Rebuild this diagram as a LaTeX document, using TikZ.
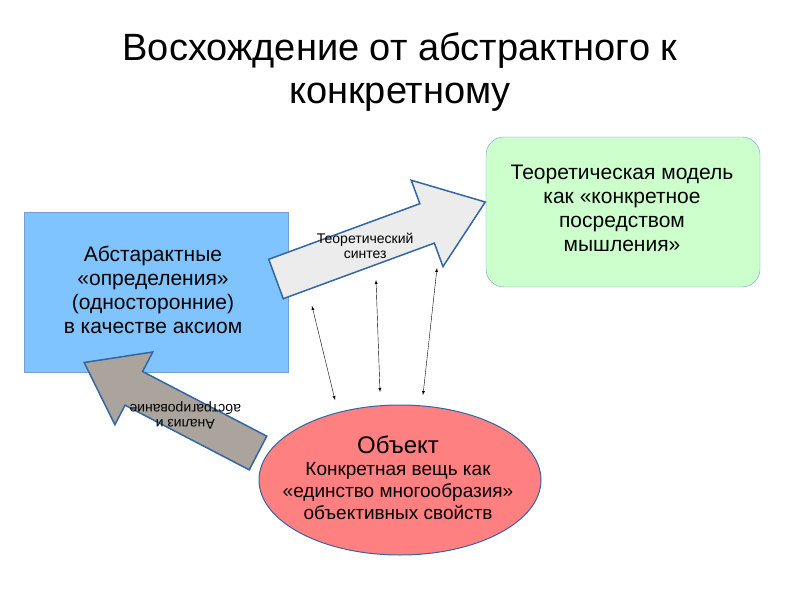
\documentclass[tikz,border=0pt]{standalone}
\usepackage{fontspec}
\setmainfont{Liberation Sans}
\usetikzlibrary{shapes.geometric}
\definecolor{edgeblue}{HTML}{3465A4}
\tikzset{
  boxtext/.style={align=center, font=\fontsize{21}{24}\selectfont, inner sep=0pt},
  arrowtext/.style={align=center, font=\fontsize{14}{15}\selectfont, inner sep=0pt},
  thinarrow/.style={<->, >=latex, thin},
}
\newcommand{\blockarrow}[5]{% len, shaft half width, head half width, head length, fill
  \draw[edgeblue, line width=1.5pt, fill=#5, line join=miter]
    (0,-#2) -- ({#1-#4},-#2) -- ({#1-#4},-#3) -- (#1,0) -- ({#1-#4},#3)
    -- ({#1-#4},#2) -- (0,#2) -- cycle;}
\begin{document}
\begin{tikzpicture}[x=1pt, y=-1pt]
    \useasboundingbox (0,0) rectangle (800,601);
    \fill[white] (0,0) rectangle (800,601);
    % title
    \node[align=center, font=\fontsize{38}{43}\selectfont] (title) at (400,72)
        {Восхождение от абстрактного к\\конкретному};
    % boxes
    \draw[fill={rgb,255:red,128;green,196;blue,255}, draw={rgb,255:red,114;green,159;blue,207}]
        (24,212) rectangle (288,372);
    \node[boxtext] (abstr) at (153,290)
        {Абстарактные\\«определения»\\(односторонние)\\в качестве аксиом};
    \draw[fill={rgb,255:red,204;green,255;blue,204}, draw={rgb,255:red,114;green,159;blue,207}, rounded corners=18pt]
        (486,137) rectangle (760,287);
    \node[boxtext] (model) at (622,208)
        {Теоретическая модель\\как «конкретное\\посредством\\мышления»};
    \node[ellipse, draw=edgeblue, line width=1pt, fill={rgb,255:red,255;green,128;blue,128},
        minimum width=282pt, minimum height=150pt] (object) at (400,480) {};
    \node[align=center, font=\fontsize{19}{22}\selectfont, inner sep=0pt] (objtext) at (398,478)
        {{\fontsize{24}{28}\selectfont Объект}\\Конкретная вещь как\\«единство многообразия»\\объективных свойств};
    % block arrows
    \begin{scope}[shift={(276,279)}, rotate=20.2]
        \blockarrow{223}{21}{46}{62}{gray!15}
        \node[arrowtext, rotate=0] (synth) at (95,0) {Теоретический\\синтез};
    \end{scope}
    \begin{scope}[shift={(258,453)}, rotate=152.5]
        \blockarrow{196}{19}{41}{56}{{rgb,255:red,170;green,164;blue,156}}
        \node[arrowtext, rotate=180] (anal) at (82,0) {Анализ и\\абстрагирование};
    \end{scope}
    % thin arrows
    \coordinate (a1) at (312,306); \coordinate (b1) at (335,400);
    \coordinate (a2) at (376,280); \coordinate (b2) at (380,392);
    \coordinate (a3) at (437,268); \coordinate (b3) at (423,395);
    \draw[thinarrow] (a1) -- (b1);
    \draw[thinarrow] (a2) -- (b2);
    \draw[thinarrow] (a3) -- (b3);
\end{tikzpicture}
\end{document}
